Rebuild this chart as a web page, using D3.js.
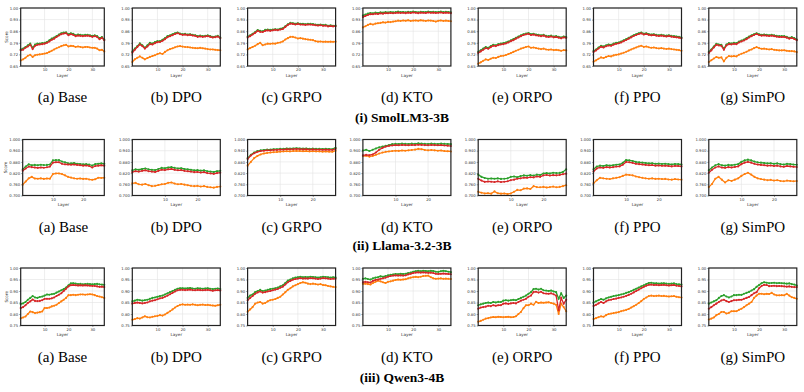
<!DOCTYPE html>
<html>
<head>
<meta charset="utf-8">
<script src="https://cdn.jsdelivr.net/npm/d3@7"></script>
<style>
  html, body { margin: 0; padding: 0; background: #fff; }
  svg { display: block; }
</style>
</head>
<body>
<div id="chart"></div>
<script>
/* Layer-wise score small multiples: 3 models x 7 training methods */

const methods = ["Base", "DPO", "GRPO", "KTO", "ORPO", "PPO", "SimPO"];
const letters = ["a", "b", "c", "d", "e", "f", "g"];
const rowTitles = ["(i) SmolLM3-3B", "(ii) Llama-3.2-3B", "(iii) Qwen3-4B"];
const xTicks = [10, 20, 30];

const smolTicks = [0.65, 0.72, 0.79, 0.86, 0.93, 1.00];
const llamaTicks = [0.700, 0.760, 0.820, 0.880, 0.940, 1.000];
const qwenTicks = [0.75, 0.80, 0.85, 0.90, 0.95, 1.00];

// SmolLM3-3B, 36 layers
const smolGreen = [
  [.750,.755,.765,.775,.785,.760,.780,.785,.785,.788,.790,.795,.805,.815,.822,.830,.840,.848,.852,.853,.842,.848,.844,.835,.840,.838,.835,.838,.838,.835,.832,.835,.830,.818,.825,.810],
  [.737,.755,.770,.787,.775,.760,.775,.790,.785,.795,.800,.800,.808,.818,.830,.835,.842,.848,.852,.846,.842,.844,.840,.842,.838,.836,.830,.833,.830,.832,.835,.830,.826,.828,.832,.822],
  [.828,.835,.845,.855,.867,.862,.860,.868,.870,.868,.870,.872,.870,.875,.878,.890,.902,.910,.908,.905,.908,.904,.905,.902,.904,.904,.903,.900,.898,.900,.897,.898,.893,.895,.893,.894],
  [.955,.960,.966,.970,.968,.972,.970,.974,.972,.975,.973,.976,.974,.975,.978,.975,.976,.974,.977,.975,.978,.976,.974,.977,.976,.975,.978,.976,.977,.975,.976,.978,.975,.977,.976,.974],
  [.735,.745,.755,.765,.760,.770,.778,.775,.782,.785,.788,.792,.798,.805,.812,.820,.828,.835,.842,.846,.849,.842,.845,.840,.838,.835,.838,.832,.830,.833,.828,.830,.826,.822,.828,.825],
  [.740,.750,.762,.772,.768,.775,.780,.778,.785,.790,.792,.798,.805,.812,.820,.828,.836,.842,.848,.852,.845,.848,.843,.840,.842,.838,.836,.838,.835,.833,.836,.832,.830,.828,.826,.822],
  [.735,.750,.768,.784,.780,.778,.754,.780,.788,.786,.790,.788,.798,.804,.810,.818,.828,.835,.842,.848,.842,.838,.840,.838,.836,.838,.835,.832,.830,.830,.830,.826,.820,.824,.818,.810]
];
const smolRed = [
  [.745,.748,.760,.768,.778,.752,.772,.778,.780,.782,.785,.790,.798,.808,.815,.825,.834,.842,.846,.848,.836,.842,.838,.830,.834,.832,.830,.832,.833,.830,.826,.830,.825,.812,.820,.805],
  [.730,.748,.765,.780,.770,.755,.768,.782,.780,.788,.794,.795,.802,.812,.824,.830,.836,.843,.848,.842,.838,.840,.836,.838,.834,.832,.826,.829,.826,.828,.830,.826,.822,.824,.828,.818],
  [.822,.830,.840,.850,.862,.856,.855,.862,.865,.862,.865,.868,.866,.870,.873,.886,.898,.906,.904,.900,.904,.900,.900,.898,.900,.900,.899,.896,.894,.896,.893,.894,.889,.891,.889,.890],
  [.945,.952,.958,.963,.962,.966,.964,.968,.966,.969,.968,.970,.968,.970,.972,.970,.971,.969,.972,.970,.973,.971,.969,.972,.971,.970,.973,.971,.972,.970,.971,.973,.970,.972,.971,.969],
  [.728,.738,.748,.758,.754,.764,.772,.770,.776,.780,.782,.786,.792,.800,.806,.815,.822,.830,.837,.841,.844,.837,.840,.835,.833,.830,.833,.827,.825,.828,.823,.825,.821,.817,.823,.820],
  [.734,.744,.756,.766,.762,.769,.774,.772,.779,.784,.787,.792,.800,.807,.815,.823,.831,.837,.843,.847,.840,.843,.838,.835,.837,.833,.831,.833,.830,.828,.831,.827,.825,.823,.821,.817],
  [.728,.744,.762,.778,.774,.772,.748,.774,.782,.780,.784,.782,.792,.798,.804,.812,.822,.830,.837,.843,.837,.833,.835,.833,.831,.833,.830,.827,.825,.825,.825,.821,.815,.819,.813,.805]
];
const smolOrange = [
  [.683,.690,.700,.712,.718,.705,.715,.718,.720,.722,.725,.728,.735,.742,.750,.757,.763,.770,.775,.778,.768,.772,.770,.765,.768,.765,.762,.765,.765,.762,.760,.760,.755,.745,.748,.738],
  [.674,.690,.700,.708,.700,.690,.698,.705,.710,.715,.722,.727,.722,.735,.745,.752,.757,.763,.768,.770,.767,.765,.764,.762,.760,.758,.757,.760,.757,.755,.752,.750,.750,.748,.746,.745],
  [.750,.758,.765,.772,.782,.790,.775,.780,.785,.784,.786,.785,.790,.792,.798,.810,.818,.826,.826,.822,.816,.818,.815,.812,.810,.808,.806,.800,.797,.798,.796,.797,.796,.797,.796,.797],
  [.883,.890,.898,.904,.900,.906,.908,.910,.914,.912,.916,.915,.918,.920,.924,.922,.925,.923,.926,.922,.924,.925,.923,.926,.924,.922,.925,.924,.922,.918,.923,.925,.922,.924,.922,.920],
  [.664,.672,.682,.690,.686,.694,.700,.698,.705,.710,.712,.716,.722,.728,.735,.742,.748,.755,.760,.765,.768,.760,.762,.758,.755,.752,.755,.750,.748,.750,.746,.748,.745,.742,.746,.744],
  [.676,.684,.694,.702,.698,.705,.710,.708,.714,.718,.720,.725,.730,.736,.743,.750,.756,.762,.768,.772,.765,.768,.763,.760,.762,.758,.756,.758,.755,.753,.755,.752,.750,.748,.746,.742],
  [.674,.685,.695,.704,.700,.702,.678,.700,.710,.708,.710,.708,.718,.724,.730,.736,.744,.750,.758,.764,.758,.754,.755,.752,.750,.752,.748,.746,.744,.744,.745,.742,.740,.740,.738,.734]
];

// Llama-3.2-3B, 28 layers
const llamaGreen = [
  [.840,.855,.867,.862,.864,.862,.865,.863,.864,.866,.888,.890,.890,.882,.878,.873,.872,.874,.870,.869,.867,.868,.866,.860,.868,.870,.872,.870],
  [.835,.840,.838,.842,.845,.840,.838,.836,.842,.848,.846,.850,.852,.848,.845,.846,.842,.840,.838,.835,.836,.833,.835,.830,.828,.826,.830,.832],
  [.900,.918,.930,.938,.942,.944,.946,.946,.948,.948,.950,.950,.952,.951,.952,.953,.952,.951,.952,.950,.951,.950,.950,.949,.950,.949,.948,.956],
  [.941,.945,.938,.945,.952,.958,.962,.966,.970,.975,.977,.976,.978,.977,.976,.978,.977,.979,.978,.977,.976,.978,.977,.976,.978,.977,.976,.975],
  [.812,.800,.794,.790,.791,.790,.792,.789,.790,.792,.800,.802,.798,.804,.808,.806,.809,.807,.812,.810,.818,.820,.818,.822,.820,.821,.826,.840],
  [.840,.855,.860,.858,.862,.860,.862,.865,.866,.875,.890,.888,.885,.880,.878,.876,.874,.872,.873,.870,.871,.869,.870,.868,.866,.869,.868,.866],
  [.835,.850,.862,.868,.862,.860,.864,.862,.865,.868,.880,.888,.892,.888,.882,.878,.876,.874,.872,.873,.870,.872,.868,.866,.870,.868,.866,.865]
];
const llamaRed = [
  [.833,.845,.855,.852,.850,.848,.850,.849,.851,.855,.876,.878,.878,.870,.867,.866,.865,.866,.864,.862,.860,.861,.858,.850,.858,.860,.862,.860],
  [.825,.830,.828,.832,.835,.830,.828,.826,.832,.838,.836,.840,.842,.838,.835,.836,.832,.830,.828,.825,.826,.823,.825,.820,.818,.816,.820,.822],
  [.895,.914,.926,.934,.938,.940,.942,.942,.944,.944,.946,.946,.948,.947,.948,.949,.948,.947,.948,.946,.947,.946,.946,.945,.946,.945,.944,.950],
  [.915,.918,.916,.920,.930,.945,.955,.962,.966,.968,.970,.969,.971,.970,.969,.971,.970,.972,.971,.970,.969,.971,.970,.969,.970,.968,.967,.965],
  [.790,.780,.773,.775,.774,.772,.776,.772,.774,.776,.782,.785,.790,.792,.796,.795,.798,.797,.802,.800,.808,.810,.807,.809,.808,.810,.814,.817],
  [.828,.845,.850,.848,.852,.850,.852,.855,.856,.865,.880,.878,.875,.870,.868,.866,.864,.862,.863,.860,.861,.859,.860,.858,.856,.859,.858,.856],
  [.822,.838,.850,.856,.850,.848,.852,.850,.853,.856,.868,.876,.880,.876,.870,.866,.864,.862,.860,.861,.858,.860,.856,.854,.858,.856,.854,.853]
];
const llamaOrange = [
  [.758,.775,.792,.800,.791,.790,.792,.789,.791,.790,.815,.818,.818,.815,.808,.800,.796,.792,.790,.791,.789,.790,.786,.784,.787,.795,.794,.795],
  [.765,.768,.760,.758,.762,.755,.750,.752,.756,.760,.762,.768,.770,.764,.760,.762,.758,.755,.752,.750,.752,.748,.750,.746,.744,.742,.746,.748],
  [.860,.880,.900,.912,.920,.925,.928,.930,.932,.933,.935,.936,.937,.936,.938,.939,.938,.937,.938,.936,.937,.936,.936,.935,.936,.935,.934,.940],
  [.911,.913,.908,.912,.918,.925,.930,.934,.936,.938,.940,.939,.941,.940,.942,.944,.946,.950,.948,.944,.942,.944,.942,.940,.941,.938,.937,.936],
  [.720,.715,.711,.712,.710,.722,.712,.710,.711,.708,.711,.720,.730,.728,.737,.738,.735,.750,.745,.744,.746,.743,.745,.748,.744,.746,.750,.755],
  [.765,.782,.795,.792,.790,.788,.792,.795,.798,.805,.812,.810,.808,.802,.798,.795,.792,.790,.792,.789,.790,.788,.789,.786,.785,.788,.786,.785],
  [.745,.762,.790,.800,.785,.770,.782,.778,.785,.792,.805,.815,.822,.812,.800,.792,.788,.785,.782,.784,.780,.782,.778,.776,.780,.778,.776,.778]
];

// Qwen3-4B, 36 layers
const qwenGreen = [
  [.844,.846,.852,.862,.870,.878,.872,.870,.874,.876,.880,.885,.884,.886,.888,.893,.898,.903,.908,.915,.925,.933,.934,.932,.930,.931,.929,.930,.931,.930,.929,.930,.931,.929,.928,.927],
  [.855,.858,.862,.860,.858,.860,.862,.866,.870,.872,.875,.878,.880,.885,.890,.895,.900,.905,.910,.912,.912,.911,.912,.913,.911,.910,.912,.911,.910,.911,.912,.910,.908,.910,.911,.909],
  [.870,.880,.885,.895,.900,.905,.900,.902,.905,.908,.910,.912,.915,.920,.925,.935,.945,.950,.955,.958,.960,.962,.960,.961,.960,.962,.961,.960,.958,.960,.962,.961,.960,.958,.960,.959],
  [.953,.955,.952,.950,.955,.958,.960,.964,.962,.965,.968,.970,.972,.974,.973,.975,.974,.975,.978,.980,.984,.986,.988,.986,.988,.987,.986,.988,.987,.984,.983,.986,.988,.986,.984,.982],
  [.838,.842,.845,.848,.850,.848,.852,.850,.853,.852,.858,.860,.858,.860,.862,.860,.865,.870,.875,.880,.888,.895,.908,.910,.906,.910,.903,.902,.900,.902,.898,.895,.866,.890,.870,.880],
  [.850,.855,.860,.865,.862,.868,.872,.875,.878,.880,.882,.885,.888,.892,.895,.900,.905,.910,.915,.920,.925,.930,.935,.936,.933,.934,.932,.933,.934,.932,.931,.932,.933,.930,.929,.928],
  [.845,.850,.855,.860,.870,.878,.882,.876,.872,.876,.882,.882,.884,.883,.888,.892,.896,.902,.908,.918,.926,.934,.938,.936,.934,.935,.936,.934,.935,.934,.933,.932,.933,.930,.928,.924]
];
const qwenRed = [
  [.826,.830,.838,.848,.855,.863,.857,.856,.857,.860,.866,.866,.866,.868,.872,.878,.884,.890,.900,.910,.920,.925,.926,.925,.924,.925,.924,.925,.924,.923,.922,.922,.920,.918,.919,.917],
  [.845,.848,.850,.848,.846,.848,.850,.855,.858,.860,.864,.868,.870,.875,.880,.886,.892,.898,.903,.905,.905,.904,.905,.906,.904,.903,.905,.904,.903,.904,.905,.903,.901,.903,.904,.902],
  [.860,.870,.878,.888,.894,.898,.893,.895,.898,.900,.903,.906,.909,.914,.919,.928,.938,.944,.949,.952,.954,.956,.954,.955,.954,.956,.955,.954,.952,.954,.956,.955,.954,.952,.954,.953],
  [.938,.940,.938,.937,.944,.948,.950,.953,.955,.958,.962,.965,.967,.968,.967,.968,.967,.968,.972,.975,.978,.980,.981,.980,.981,.980,.979,.980,.978,.975,.974,.975,.976,.975,.974,.973],
  [.823,.828,.830,.832,.836,.834,.838,.836,.838,.838,.845,.846,.844,.846,.848,.846,.852,.858,.862,.866,.875,.880,.895,.897,.893,.897,.890,.889,.888,.890,.886,.880,.816,.870,.845,.862],
  [.835,.840,.846,.852,.848,.855,.860,.862,.865,.867,.870,.872,.875,.879,.883,.888,.894,.900,.906,.912,.918,.923,.927,.928,.926,.927,.925,.926,.927,.925,.924,.925,.926,.923,.922,.920],
  [.823,.830,.838,.845,.852,.859,.862,.856,.852,.856,.860,.860,.862,.862,.866,.870,.874,.882,.890,.895,.912,.922,.927,.926,.921,.922,.923,.921,.922,.921,.920,.919,.920,.918,.917,.917]
];
const qwenOrange = [
  [.781,.785,.789,.800,.811,.808,.804,.806,.808,.811,.826,.826,.828,.833,.836,.840,.848,.855,.862,.870,.882,.882,.884,.882,.884,.885,.885,.884,.885,.886,.885,.882,.878,.876,.873,.870],
  [.775,.778,.782,.780,.785,.790,.786,.785,.788,.790,.792,.795,.793,.798,.805,.812,.820,.828,.835,.840,.842,.840,.841,.840,.842,.840,.838,.840,.841,.839,.840,.838,.837,.836,.838,.840],
  [.810,.820,.830,.845,.850,.852,.845,.848,.855,.860,.862,.865,.870,.875,.885,.895,.905,.912,.920,.925,.930,.935,.938,.936,.932,.930,.932,.930,.928,.930,.926,.925,.922,.920,.918,.917],
  [.931,.932,.930,.928,.935,.940,.945,.942,.938,.935,.940,.942,.945,.948,.950,.949,.950,.951,.955,.958,.960,.962,.960,.962,.965,.966,.967,.960,.955,.953,.954,.955,.953,.954,.953,.952],
  [.766,.770,.775,.780,.782,.785,.787,.786,.788,.787,.786,.787,.788,.786,.787,.790,.800,.809,.825,.838,.838,.845,.840,.853,.848,.850,.849,.850,.851,.848,.845,.840,.800,.845,.830,.812],
  [.778,.782,.786,.790,.788,.795,.800,.802,.804,.806,.808,.812,.815,.818,.822,.828,.834,.840,.848,.856,.865,.872,.878,.880,.878,.879,.880,.878,.879,.877,.876,.877,.878,.875,.873,.872],
  [.776,.780,.785,.795,.800,.809,.809,.802,.805,.812,.812,.812,.818,.823,.830,.838,.845,.852,.870,.880,.888,.888,.886,.888,.887,.892,.885,.881,.881,.882,.881,.888,.880,.873,.870,.866]
];

const width = 804;
const height = 392;
const colGap = 115.3;
const colors = { green: "#2ca02c", red: "#d62728", orange: "#ff7f0e" };

const rows = [
  { green: smolGreen, red: smolRed, orange: smolOrange, ticks: smolTicks, fmt: d3.format(".2f"),
    top: 8, bottom: 66, firstLeft: 20.7, scoreX: 8, caption: 102, title: 121.5 },
  { green: llamaGreen, red: llamaRed, orange: llamaOrange, ticks: llamaTicks, fmt: d3.format(".3f"),
    top: 139.5, bottom: 195.5, firstLeft: 22.7, scoreX: 7, caption: 232, title: 249.5 },
  { green: qwenGreen, red: qwenRed, orange: qwenOrange, ticks: qwenTicks, fmt: d3.format(".2f"),
    top: 268, bottom: 325.5, firstLeft: 20.7, scoreX: 8, caption: 362, title: 381.5 }
];

const svg = d3.select("#chart").append("svg")
  .attr("width", width)
  .attr("height", height)
  .style("font-family", "'DejaVu Sans', sans-serif");

rows.forEach((row, r) => {
  methods.forEach((method, i) => {
    const left = i === 0 ? row.firstLeft : 17 + colGap * i;
    const right = 17 + colGap * i + 88 - (i === 0 ? 0.7 : 0);
    const n = row.green[i].length;

    const x = d3.scaleLinear().domain([0, n - 1]).range([left, right]);
    const y = d3.scaleLinear()
      .domain([row.ticks[0], row.ticks[row.ticks.length - 1]])
      .range([row.bottom, row.top]);

    const g = svg.append("g").attr("class", "panel");

    // grid
    g.selectAll(".gx").data(xTicks.filter(t => t < n)).enter().append("line")
      .attr("x1", d => x(d)).attr("x2", d => x(d))
      .attr("y1", row.top).attr("y2", row.bottom)
      .attr("stroke", "#e3e3e3").attr("stroke-width", 0.6);
    g.selectAll(".gy").data(row.ticks).enter().append("line")
      .attr("x1", left).attr("x2", right)
      .attr("y1", d => y(d)).attr("y2", d => y(d))
      .attr("stroke", "#e3e3e3").attr("stroke-width", 0.6);

    // axes (tiny tick labels)
    const xAxis = d3.axisBottom(x).tickValues(xTicks.filter(t => t < n))
      .tickSize(1.5).tickPadding(1).tickFormat(d3.format("d"));
    const yAxis = d3.axisLeft(y).tickValues(row.ticks)
      .tickSize(1.5).tickPadding(1).tickFormat(row.fmt);

    const gx = g.append("g").attr("transform", `translate(0,${row.bottom})`).call(xAxis);
    const gy = g.append("g").attr("transform", `translate(${left},0)`).call(yAxis);
    [gx, gy].forEach(ax => {
      ax.select(".domain").remove();
      ax.selectAll("line").attr("stroke", "#444").attr("stroke-width", 0.5);
      ax.selectAll("text").attr("font-size", 3.8).attr("fill", "#333")
        .attr("font-family", "'DejaVu Sans', sans-serif");
    });

    g.append("text")
      .attr("x", (left + right) / 2)
      .attr("y", row.bottom + 10.5)
      .attr("text-anchor", "middle")
      .attr("font-size", 4.2)
      .attr("fill", "#333")
      .text("Layer");

    if (i === 0) {
      g.append("text")
        .attr("transform", `translate(${row.scoreX},${(row.top + row.bottom) / 2}) rotate(-90)`)
        .attr("text-anchor", "middle")
        .attr("font-size", 4.2)
        .attr("fill", "#333")
        .text("Score");
    }

    // series lines with small markers
    const line = d3.line().x((d, k) => x(k)).y(d => y(d));
    ["orange", "green", "red"].forEach(key => {
      const vals = row[key][i];
      g.append("path")
        .datum(vals)
        .attr("d", line)
        .attr("fill", "none")
        .attr("stroke", colors[key])
        .attr("stroke-width", 1.3);
      g.selectAll(".m-" + key).data(vals).enter().append("circle")
        .attr("cx", (d, k) => x(k))
        .attr("cy", d => y(d))
        .attr("r", 1.05)
        .attr("fill", colors[key]);
    });

    // frame
    g.append("rect")
      .attr("x", left).attr("y", row.top)
      .attr("width", right - left).attr("height", row.bottom - row.top)
      .attr("fill", "none")
      .attr("stroke", "#222")
      .attr("stroke-width", 1.2);

    // subfigure caption
    svg.append("text")
      .attr("x", (left + right) / 2)
      .attr("y", row.caption)
      .attr("text-anchor", "middle")
      .attr("font-family", "'Liberation Serif', 'Times New Roman', serif")
      .attr("font-size", 15)
      .attr("fill", "#000")
      .text(`(${letters[i]}) ${method}`);
  });

  svg.append("text")
    .attr("x", 402)
    .attr("y", row.title)
    .attr("text-anchor", "middle")
    .attr("font-family", "'Liberation Serif', 'Times New Roman', serif")
    .attr("font-weight", "bold")
    .attr("font-size", 13.5)
    .attr("fill", "#000")
    .text(rowTitles[r]);
});
</script>
</body>
</html>
